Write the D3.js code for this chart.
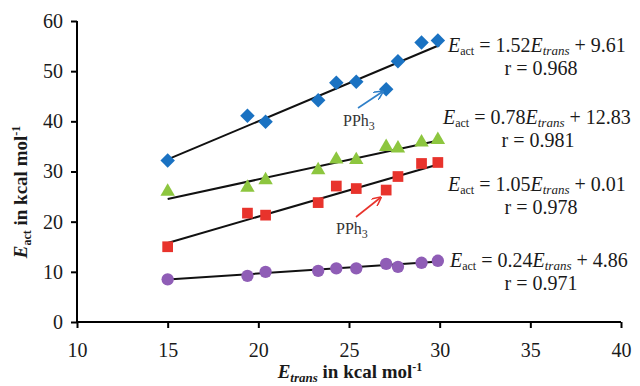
<!DOCTYPE html>
<html>
<head>
<meta charset="utf-8">
<script src="https://cdn.jsdelivr.net/npm/d3@7/dist/d3.min.js"></script>
<style>
  body { margin: 0; background: #fff; }
  svg { display: block; font-family: "Liberation Serif", "Times New Roman", serif; }
</style>
</head>
<body>
<svg id="chart" width="640" height="386"></svg>
<script>
// E_trans values (shared by all four series)
const eTrans = [15, 19.4, 20.4, 23.3, 24.3, 25.4, 27.05, 27.7, 29.0, 29.9];

// E_act values per series
const blueAct   = [32.2, 41.1, 39.9, 44.2, 47.7, 47.9, 46.4, 52.0, 55.7, 56.1];
const greenAct  = [26.0, 26.8, 28.3, 30.3, 32.4, 32.3, 34.9, 34.6, 35.8, 36.3];
const redAct    = [15.0, 21.7, 21.3, 23.8, 27.1, 26.6, 26.3, 29.0, 31.6, 31.8];
const purpleAct = [8.5, 9.2, 10.0, 10.2, 10.7, 10.7, 11.6, 11.0, 11.8, 12.2];

// linear fits as printed on the chart
const slopes     = [1.52, 0.78, 1.05, 0.24];
const intercepts = [9.61, 12.83, 0.01, 4.86];
const rValues    = ['0.968', '0.981', '0.978', '0.971'];
const fitRange   = [15, 30];

const xTicks = [10, 15, 20, 25, 30, 35, 40];
const yTicks = [0, 10, 20, 30, 40, 50, 60];

// diamond = square turned by 45 degrees
const series = [
  { values: blueAct,   color: '#1a72c2', symbol: d3.symbolSquare, size: 105, rot: 45 },
  { values: greenAct,  color: '#8dc63f', symbol: d3.symbolTriangle, size: 90, rot: 0 },
  { values: redAct,    color: '#e8332c', symbol: d3.symbolSquare, size: 115, rot: 0 },
  { values: purpleAct, color: '#8f5db6', symbol: d3.symbolCircle, size: 120, rot: 0 }
];

const svg = d3.select('#chart');
const margin = { top: 21, right: 19, bottom: 64, left: 77 };
const width = 640 - margin.left - margin.right;
const height = 386 - margin.top - margin.bottom;
const g = svg.append('g').attr('transform', `translate(${margin.left},${margin.top})`);

const x = d3.scaleLinear().domain([10, 40]).range([0, width]);
const y = d3.scaleLinear().domain([0, 60]).range([height, 0]);

// axes
const xAxis = g.append('g')
  .attr('transform', `translate(0,${height})`)
  .call(d3.axisBottom(x).tickValues(xTicks).tickSize(6).tickPadding(15));
const yAxis = g.append('g')
  .call(d3.axisLeft(y).tickValues(yTicks).tickSize(6).tickPadding(8));

[xAxis, yAxis].forEach(ax => {
  ax.selectAll('path').attr('stroke', '#000').attr('stroke-width', 2);
  ax.selectAll('line').attr('stroke', '#000').attr('stroke-width', 2);
  ax.selectAll('text')
    .attr('fill', '#1a1a1a')
    .style('font-family', '"Liberation Serif", "Times New Roman", serif')
    .style('font-size', '20px');
});
xAxis.selectAll('path').attr('d', `M0,0H${width}`);
yAxis.selectAll('path').attr('d', `M0,${height}V0`);

// fit lines
series.forEach((s, i) => {
  g.append('line')
    .attr('x1', x(fitRange[0]))
    .attr('y1', y(slopes[i] * fitRange[0] + intercepts[i]))
    .attr('x2', x(fitRange[1]))
    .attr('y2', y(slopes[i] * fitRange[1] + intercepts[i]))
    .attr('stroke', '#111')
    .attr('stroke-width', 2);
});

// markers
series.forEach(s => {
  g.selectAll(null)
    .data(s.values)
    .enter()
    .append('path')
    .attr('d', d3.symbol().type(s.symbol).size(s.size))
    .attr('transform', (d, j) => `translate(${x(eTrans[j])},${y(d)}) rotate(${s.rot})`)
    .attr('fill', s.color);
});

// equation labels
const eqPos = [
  { x: 448, y: 52, rx: 541, ry: 75 },
  { x: 443, y: 124, rx: 538, ry: 147 },
  { x: 448, y: 191, rx: 541, ry: 214 },
  { x: 450, y: 267, rx: 541, ry: 290 }
];

eqPos.forEach((p, i) => {
  const t = svg.append('text')
    .attr('x', p.x)
    .attr('y', p.y)
    .attr('fill', '#1a1a1a')
    .style('font-size', '20px');
  t.append('tspan').attr('font-style', 'italic').text('E');
  t.append('tspan').attr('dy', 3).style('font-size', '12px').text('act');
  t.append('tspan').attr('dy', -3).text(` = ${slopes[i].toFixed(2)}`);
  t.append('tspan').attr('font-style', 'italic').text('E');
  t.append('tspan').attr('dy', 3).attr('font-style', 'italic').style('font-size', '13px').text('trans');
  t.append('tspan').attr('dy', -3).text(` + ${intercepts[i].toFixed(2)}`);

  svg.append('text')
    .attr('x', p.rx)
    .attr('y', p.ry)
    .attr('text-anchor', 'middle')
    .attr('fill', '#1a1a1a')
    .style('font-size', '20px')
    .text(`r = ${rValues[i]}`);
});

// PPh3 callouts
svg.append('defs').selectAll('marker')
  .data([{ id: 'arrBlue', c: '#2f7fc8' }, { id: 'arrRed', c: '#e8332c' }])
  .enter()
  .append('marker')
  .attr('id', d => d.id)
  .attr('viewBox', '0 0 10 10')
  .attr('refX', 8).attr('refY', 5)
  .attr('markerWidth', 6).attr('markerHeight', 6)
  .attr('orient', 'auto')
  .append('path')
  .attr('d', 'M0,0L10,5L0,10')
  .attr('fill', 'none')
  .attr('stroke', d => d.c)
  .attr('stroke-width', 1.6);

const callouts = [
  { tx: 343, ty: 126, x1: 358, y1: 108, x2: 382, y2: 92, id: 'arrBlue', c: '#2f7fc8' },
  { tx: 336, ty: 234, x1: 356, y1: 217, x2: 380, y2: 198, id: 'arrRed', c: '#e8332c' }
];
callouts.forEach(c => {
  svg.append('line')
    .attr('x1', c.x1).attr('y1', c.y1)
    .attr('x2', c.x2).attr('y2', c.y2)
    .attr('stroke', c.c)
    .attr('stroke-width', 1.6)
    .attr('marker-end', `url(#${c.id})`);
  const t = svg.append('text')
    .attr('x', c.tx).attr('y', c.ty)
    .attr('fill', '#333')
    .style('font-size', '16px');
  t.append('tspan').text('PPh');
  t.append('tspan').attr('dy', 4).style('font-size', '12px').text('3');
});

// axis titles
const xt = svg.append('text')
  .attr('x', 350).attr('y', 378)
  .attr('text-anchor', 'middle')
  .attr('font-weight', 'bold')
  .attr('fill', '#1a1a1a')
  .style('font-size', '19px');
xt.append('tspan').attr('font-style', 'italic').text('E');
xt.append('tspan').attr('dy', 4).attr('font-style', 'italic').style('font-size', '13px').text('trans');
xt.append('tspan').attr('dy', -4).text(' in kcal mol');
xt.append('tspan').attr('dy', -7).style('font-size', '12px').text('-1');

const yt = svg.append('text')
  .attr('transform', 'translate(27,192) rotate(-90)')
  .attr('text-anchor', 'middle')
  .attr('font-weight', 'bold')
  .attr('fill', '#1a1a1a')
  .style('font-size', '19px');
yt.append('tspan').attr('font-style', 'italic').text('E');
yt.append('tspan').attr('dy', 4).style('font-size', '12px').text('act');
yt.append('tspan').attr('dy', -4).text(' in kcal mol');
yt.append('tspan').attr('dy', -7).style('font-size', '12px').text('-1');
</script>
</body>
</html>
